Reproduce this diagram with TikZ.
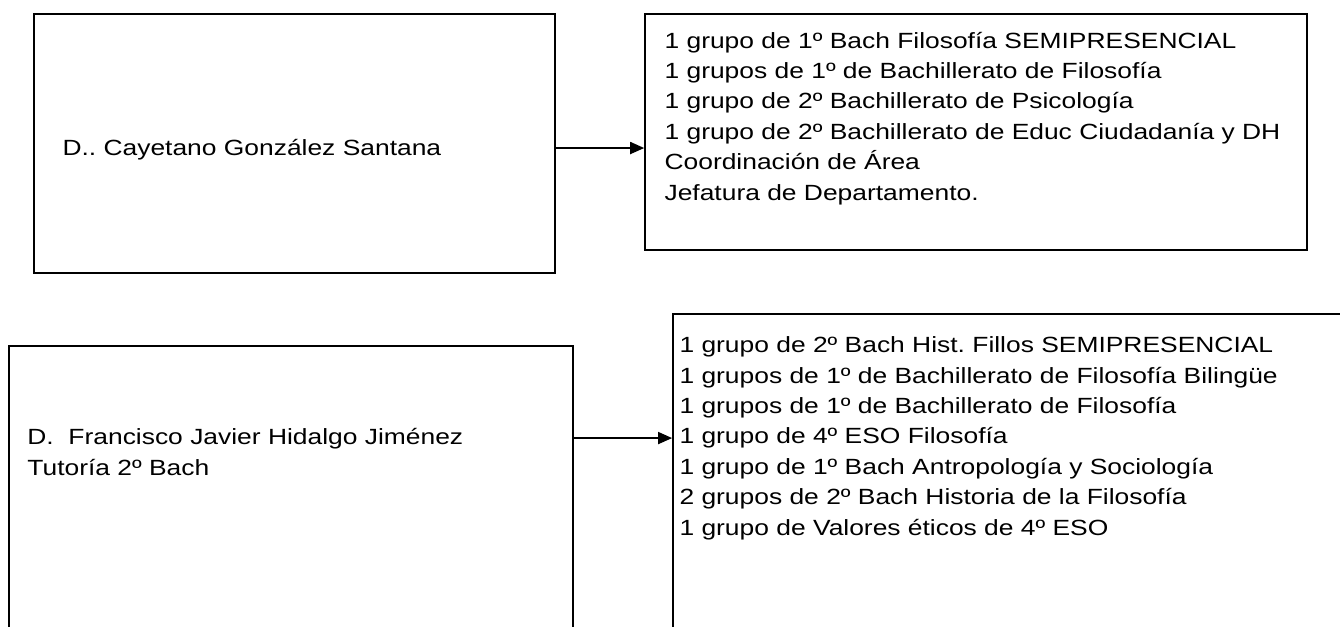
\documentclass[tikz,border=0pt]{standalone}
\usepackage{fontspec}
\setmainfont{Liberation Sans}[FakeStretch=1.2]
\usetikzlibrary{arrows.meta,positioning}

\begin{document}
\frenchspacing
\begin{tikzpicture}[
    font=\fontsize{11pt}{15.2pt}\selectfont,
    >={Triangle[length=7pt,width=6pt]},
    box/.style={
        rectangle, draw=black, line width=0.9pt,
        inner sep=0pt
    },
    openBox/.style={
        box, anchor=north west,
        minimum height=7cm
    },
    nameText/.style={align=left, inner sep=0pt, anchor=base west},
    listText/.style={align=left, inner sep=0pt, anchor=base west},
    flow/.style={->, line width=0.9pt}
]

% Layout plan: two rows, teacher on the left, duties on the right; lower row runs off the page.
% Text nodes sit on the baseline of their last line.
\clip (0,0) rectangle (23.544,11.0);
\fill[white] (0,0) rectangle (23.544,11.0);

\node[box, minimum width=9.156cm, minimum height=4.551cm] (Cayetano) at (5.175,8.479) {};
\node[box, minimum width=11.633cm, minimum height=4.147cm] (CayetanoTasks) at (17.151,8.681) {};
\node[openBox, minimum width=9.911cm] (Francisco) at (0.141,4.938) {};
\node[openBox, minimum width=14cm] (FranciscoTasks) at (11.809,5.5) {};

\node[nameText] (CayetanoName) at ([shift={(0.51,-2.495)}]Cayetano.north west)
  {D.. Cayetano González Santana};
\node[listText] (CayetanoList) at ([shift={(0.351,-3.286)}]CayetanoTasks.north west)
  {1 grupo de 1º Bach Filosofía SEMIPRESENCIAL\\
   1 grupos de 1º de Bachillerato de Filosofía\\
   1 grupo de 2º Bachillerato de Psicología\\
   1 grupo de 2º Bachillerato de Educ Ciudadanía y DH\\
   Coordinación de Área\\
   Jefatura de Departamento.};

\node[nameText] (FranciscoName) at ([shift={(0.334,-2.284)}]Francisco.north west)
  {D.\ \ Francisco Javier Hidalgo Jiménez\\
   Tutoría 2º Bach};
\node[listText] (FranciscoList) at ([shift={(0.123,-3.901)}]FranciscoTasks.north west)
  {1 grupo de 2º Bach Hist. Fillos SEMIPRESENCIAL\\
   1 grupos de 1º de Bachillerato de Filosofía Bilingüe\\
   1 grupos de 1º de Bachillerato de Filosofía\\
   1 grupo de 4º ESO Filosofía\\
   1 grupo de 1º Bach Antropología y Sociología\\
   2 grupos de 2º Bach Historia de la Filosofía\\
   1 grupo de Valores éticos de 4º ESO};

\draw[flow] ([yshift=-0.08cm]Cayetano.east) -- ([yshift=-0.08cm]Cayetano.east -| CayetanoTasks.west);
\draw[flow] ([yshift=-1.634cm]Francisco.north east) -- ([yshift=-2.197cm]FranciscoTasks.north west);

\end{tikzpicture}
\end{document}
